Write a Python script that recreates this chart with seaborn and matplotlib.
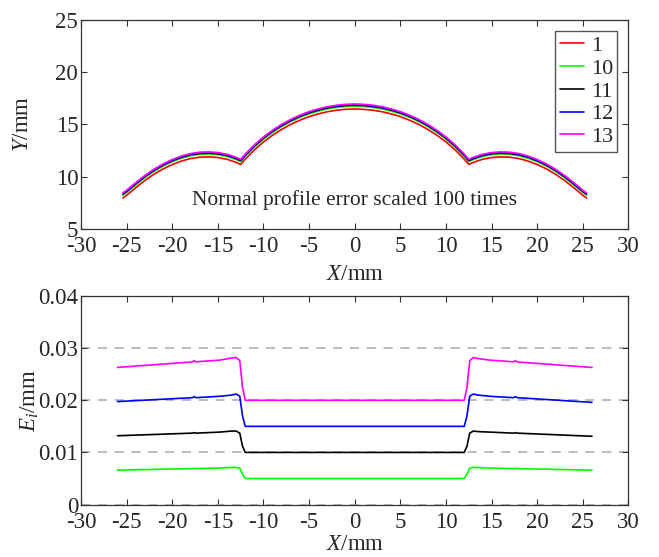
import numpy as np
import pandas as pd
import matplotlib
matplotlib.use('Agg')
import matplotlib.pyplot as plt
import matplotlib.ticker as ticker
import seaborn as sns

# nominal profile (curve 1)
prof_x = [-25.4, -25, -24, -23, -22, -21, -20, -19, -18, -17, -16, -15, -14, -13, -12.5,
          -12, -11, -10, -9, -8, -7, -6, -5, -4, -3, -2, -1, 0,
          1, 2, 3, 4, 5, 6, 7, 8, 9, 10, 11, 12,
          12.5, 13, 14, 15, 16, 17, 18, 19, 20, 21, 22, 23, 24, 25, 25.4]
prof_y = [7.95, 8.20, 8.93, 9.62, 10.22, 10.73, 11.15, 11.48, 11.72, 11.85, 11.88, 11.82, 11.65, 11.36, 11.16,
          11.67, 12.55, 13.31, 13.96, 14.52, 15.00, 15.40, 15.74, 16.00, 16.21, 16.35, 16.44, 16.47,
          16.44, 16.35, 16.21, 16.00, 15.74, 15.40, 15.00, 14.52, 13.96, 13.31, 12.55, 11.67,
          11.16, 11.36, 11.65, 11.82, 11.88, 11.85, 11.72, 11.48, 11.15, 10.73, 10.22, 9.62, 8.93, 8.20, 7.95]

series = ['1', '10', '11', '12', '13']
colors = ['#ff0000', '#00ff00', '#000000', '#0000ff', '#ff00ff']
# shift of each scaled profile above curve 1
prof_shift = [0.0, 0.27, 0.36, 0.42, 0.48]

# normal profile error
err_x = [-26.0, -17.8, -17.6, -17.4, -14.8, -13.5, -13.0, -12.6, -12.3, -12.0,
         12.0, 12.3, 12.6, 13.0, 13.5, 14.8, 17.4, 17.6, 17.8, 26.0]
err_10 = [0.0066, 0.0069, 0.00695, 0.0069, 0.0070, 0.00712, 0.00713, 0.0070, 0.0058, 0.0050,
          0.0050, 0.0058, 0.0070, 0.00713, 0.0071, 0.0070, 0.0069, 0.00695, 0.0069, 0.0066]
err_11 = [0.0132, 0.0137, 0.0138, 0.0137, 0.0139, 0.0141, 0.0141, 0.0137, 0.0112, 0.0100,
          0.0100, 0.0112, 0.0137, 0.0141, 0.0140, 0.0139, 0.0137, 0.0138, 0.0137, 0.0131]
err_12 = [0.01975, 0.0205, 0.0207, 0.0205, 0.02077, 0.0210, 0.0212, 0.0208, 0.0170, 0.0150,
          0.0150, 0.0170, 0.0208, 0.0212, 0.0210, 0.02077, 0.0205, 0.0207, 0.0205, 0.0196]
err_13 = [0.0263, 0.02735, 0.0276, 0.02738, 0.0277, 0.0281, 0.0282, 0.0276, 0.0225, 0.0200,
          0.0200, 0.0225, 0.0276, 0.0282, 0.0280, 0.0277, 0.02738, 0.0276, 0.02735, 0.0263]

sns.set_theme(style='ticks')
plt.rcParams['font.family'] = ['Liberation Serif', 'DejaVu Serif']
plt.rcParams['mathtext.fontset'] = 'custom'
plt.rcParams['mathtext.rm'] = 'Liberation Serif'
plt.rcParams['mathtext.it'] = 'Liberation Serif:italic'
plt.rcParams['axes.unicode_minus'] = False

FS = 16.5

fig = plt.figure(figsize=(6.59, 5.57), dpi=100)
ax1 = fig.add_axes([0.1229, 0.5894, 0.8308, 0.3747])
ax2 = fig.add_axes([0.1229, 0.0941, 0.8308, 0.3745])

# top: profiles
rows = []
for name, s in zip(series, prof_shift):
    for x, y in zip(prof_x, prof_y):
        rows.append((name, x, y + s))
df_top = pd.DataFrame(rows, columns=['series', 'x', 'y'])
sns.lineplot(data=df_top, x='x', y='y', hue='series', palette=colors, hue_order=series,
             estimator=None, sort=False, lw=1.2, ax=ax1)
ax1.set_xlim(-30, 30)
ax1.set_ylim(5, 25)
ax1.set_xticks(np.arange(-30, 31, 5))
ax1.set_yticks(np.arange(5, 26, 5))
ax1.set_xlabel('$X$/mm', fontsize=FS, labelpad=5)
ax1.set_ylabel('$Y$/mm', fontsize=FS, labelpad=16)
ax1.text(0, 7.75, 'Normal profile error scaled 100 times', ha='center', va='center', fontsize=15.5)
ax1.legend(loc='upper right', fontsize=16, frameon=True, fancybox=False, edgecolor='#555555',
           handlelength=1.1, handletextpad=0.3, labelspacing=0.1, borderpad=0.2,
           borderaxespad=0.5, framealpha=1)

# bottom: errors
err_sets = [err_10, err_11, err_12, err_13]
rows = []
for name, vals in zip(series[1:], err_sets):
    for x, y in zip(err_x, vals):
        rows.append((name, x, y))
df_bot = pd.DataFrame(rows, columns=['series', 'x', 'e'])
sns.lineplot(data=df_bot, x='x', y='e', hue='series', palette=colors[1:], hue_order=series[1:],
             estimator=None, sort=False, lw=1.2, ax=ax2, legend=False)
ax2.set_xlim(-30, 30)
ax2.set_ylim(0, 0.04)
ax2.set_xticks(np.arange(-30, 31, 5))
ax2.set_yticks([0, 0.01, 0.02, 0.03, 0.04])
ax2.yaxis.set_major_formatter(ticker.FormatStrFormatter('%g'))
ax2.yaxis.grid(True, ls=(0, (6, 5)), color='#aaaaaa', lw=1.1)
ax2.set_xlabel('$X$/mm', fontsize=FS, labelpad=1)
ax2.set_ylabel('$E_i$/mm', fontsize=FS, labelpad=-2)

for ax in (ax1, ax2):
    ax.tick_params(direction='in', top=True, right=True, length=4, width=0.8,
                   labelsize=FS, pad=2, color='#333333')
    ax.tick_params(axis='x', pad=5)
    for sp in ax.spines.values():
        sp.set_color('#333333')
        sp.set_linewidth(0.9)

fig.savefig('out.png', dpi=100)
